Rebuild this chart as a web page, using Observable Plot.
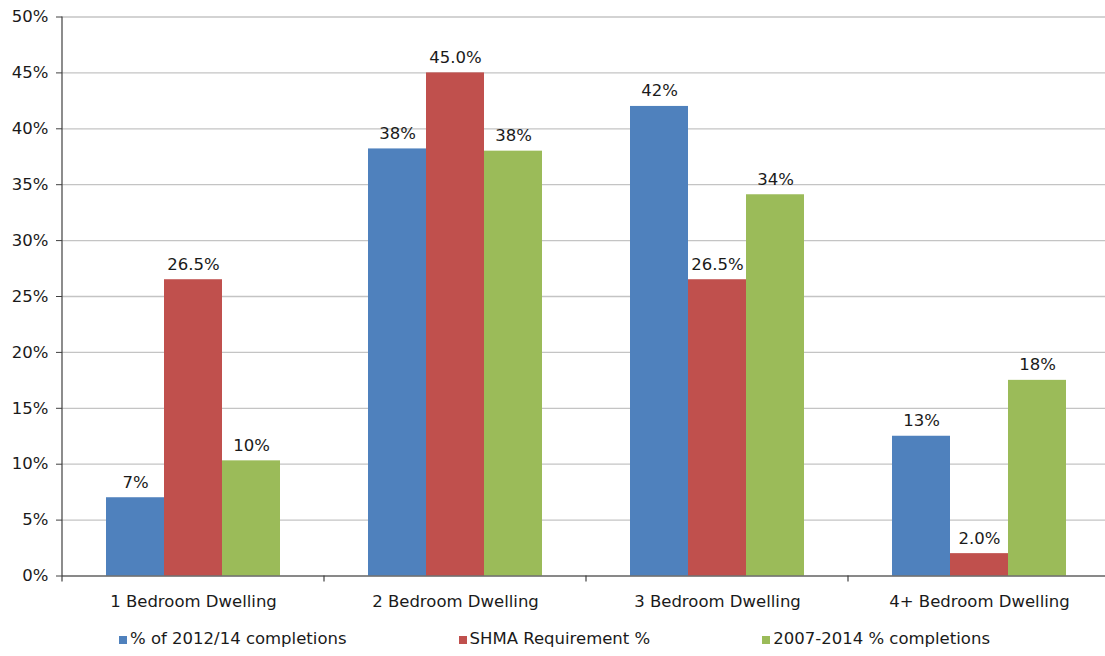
<!DOCTYPE html>
<html>
<head>
<meta charset="utf-8">
<script src="https://cdn.jsdelivr.net/npm/d3@7"></script>
<script src="https://cdn.jsdelivr.net/npm/@observablehq/plot@0.6"></script>
<style>
  html, body { margin: 0; padding: 0; background: #fff; overflow: hidden; }
  #chart svg { display: block; }
  .legend {
    display: flex; justify-content: center; gap: 112px;
    font-family: "DejaVu Sans", sans-serif; font-size: 16.5px; line-height: 20px;
    color: #1a1a1a; padding-left: 4px;
  }
  .legend .item { display: flex; align-items: baseline; white-space: nowrap; }
  .legend .sw { display: inline-block; width: 8px; height: 8px; margin-right: 3px; }
</style>
</head>
<body>
<div id="chart"></div>
<script>
// Dwelling sizes along the horizontal axis
const categories = ["1 Bedroom Dwelling", "2 Bedroom Dwelling", "3 Bedroom Dwelling", "4+ Bedroom Dwelling"];

// Series names (legend order)
const series = ["% of 2012/14 completions", "SHMA Requirement %", "2007-2014 % completions"];

// Values in percent, one per dwelling size
const completions201214 = [7.0, 38.2, 42.0, 12.5];
const shmaRequirement = [26.5, 45.0, 26.5, 2.0];
const completions200714 = [10.3, 38.0, 34.1, 17.5];

// Decimal places shown in each series' value labels
const labelDecimals = [0, 1, 0];

// Series colours
const colors = ["#4F81BD", "#C0504D", "#9BBB59"];

// Vertical axis ticks (percent)
const yTicks = [0, 5, 10, 15, 20, 25, 30, 35, 40, 45, 50];

const seriesValues = [completions201214, shmaRequirement, completions200714];
const data = [];
categories.forEach((category, i) => {
  series.forEach((name, s) => {
    const value = seriesValues[s][i];
    data.push({category, series: name, value, label: value.toFixed(labelDecimals[s]) + "%"});
  });
});

const axisColor = "#404040";
const textColor = "#1a1a1a";

const chart = Plot.plot({
  width: 1105,
  height: 629,
  marginTop: 16.5,
  marginBottom: 53.5,
  marginLeft: 62,
  marginRight: 0,
  style: {fontFamily: "DejaVu Sans, sans-serif", fontSize: "16.5px", color: textColor, background: "#fff", overflow: "visible"},
  fx: {domain: categories, range: [62, 1110], padding: 0, label: null},
  x: {domain: series, paddingInner: 0, paddingOuter: 0.75, axis: null},
  y: {domain: [0, 50], label: null},
  color: {domain: series, range: colors},
  marks: [
    Plot.gridY(yTicks, {stroke: "#c4c4c4", strokeOpacity: 1, strokeWidth: 1.3}),
    Plot.barY(data, {fx: "category", x: "series", y: "value", fill: "series"}),
    Plot.text(data, {
      fx: "category", x: "series", y: "value", text: "label",
      lineAnchor: "bottom", dy: -10, fill: textColor, fontSize: 16.5
    }),
    Plot.ruleY([0], {stroke: axisColor, strokeWidth: 1.2}),
    Plot.axisY(yTicks, {
      tickSize: 6, tickPadding: 8, stroke: axisColor, fill: textColor,
      tickFormat: d => d + "%", label: null
    }),
    Plot.axisFx({anchor: "bottom", tickSize: 0, tickPadding: 19, fill: textColor, label: null})
  ]
});

// Vertical axis line and the tick marks between dwelling-size groups
{
  const fx = chart.scale("fx");
  const y = chart.scale("y");
  const svg = d3.select(chart);
  const y0 = y.apply(0), y1 = y.apply(50);
  const g = svg.append("g").attr("stroke", axisColor).attr("stroke-width", 1.2);
  g.append("line")
    .attr("x1", fx.apply(categories[0])).attr("x2", fx.apply(categories[0]))
    .attr("y1", y1).attr("y2", y0 + 6);
  categories.slice(1).forEach(c => {
    const x = fx.apply(c);
    g.append("line").attr("x1", x).attr("x2", x).attr("y1", y0).attr("y2", y0 + 6);
  });
}

document.getElementById("chart").appendChild(chart);

// Legend below the chart
const legend = d3.select("body").append("div").attr("class", "legend");
series.forEach((name, s) => {
  const item = legend.append("div").attr("class", "item");
  item.append("span").attr("class", "sw").style("background", colors[s]);
  item.append("span").text(name);
});
</script>
</body>
</html>
